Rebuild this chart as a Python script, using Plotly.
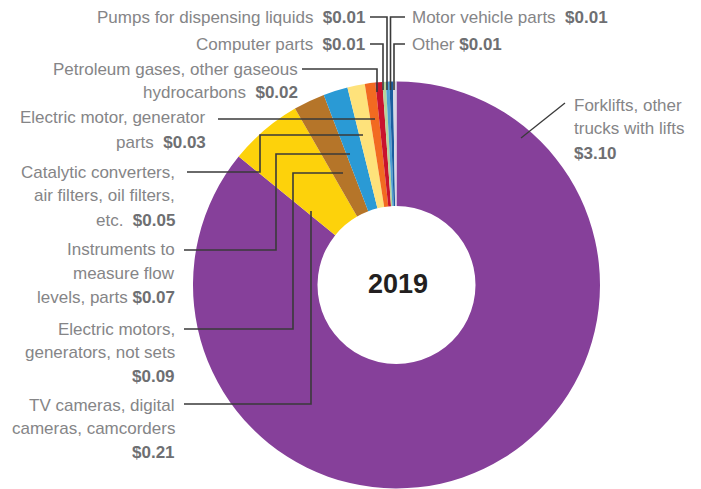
import plotly.graph_objects as go

W, H = 701, 489
# page offset (default body margin of the html page)
OX, OY = 8, 8

# ---- data ----
categories = [
    "Forklifts, other trucks with lifts",
    "TV cameras, digital cameras, camcorders",
    "Electric motors, generators, not sets",
    "Instruments to measure flow levels, parts",
    "Catalytic converters, air filters, oil filters, etc.",
    "Electric motor, generator parts",
    "Petroleum gases, other gaseous hydrocarbons",
    "Computer parts",
    "Pumps for dispensing liquids",
    "Motor vehicle parts",
    "Other",
]
values = [3.10, 0.21, 0.09, 0.07, 0.05, 0.03, 0.02, 0.01, 0.01, 0.01, 0.01]
year_label = "2019"

# label text broken into lines; the value is appended to the last line
label_lines = [
    ["Forklifts, other", "trucks with lifts", ""],
    ["TV cameras, digital", "cameras, camcorders", ""],
    ["Electric motors,", "generators, not sets", ""],
    ["Instruments to", "measure flow", "levels, parts "],
    ["Catalytic converters,", "air filters, oil filters,", "etc.  "],
    ["Electric motor, generator", "parts  "],
    ["Petroleum gases, other gaseous", "hydrocarbons  "],
    ["Computer parts  "],
    ["Pumps for dispensing liquids  "],
    ["Motor vehicle parts  "],
    ["Other "],
]

# ---- style / layout ----
colors = ["#86409A", "#FDD20B", "#B57529", "#2A9AD5", "#FEE27B", "#F26A21",
          "#C9132E", "#B5D49B", "#4E9FD3", "#1B5C9F", "#D8D5E5"]

# (anchor x px, side, first-line y px, line spacing px)
label_pos = [
    (572, "left", 105, 24),
    (177, "right", 405, 23.5),
    (177, "right", 329, 23.5),
    (177, "right", 250, 23.5),
    (177, "right", 172, 24),
    (208, "right", 118, 24),
    (300, "right", 70, 23),
    (367, "right", 45, 24),
    (367, "right", 17, 24),
    (410, "left", 17, 24),
    (410, "left", 45, 24),
]
# leader polylines, pixel coords
leaders = [
    [(565, 103), (521, 138)],
    [(184, 404), (311, 404), (311, 211)],
    [(184, 329), (293, 329), (293, 173), (343, 173)],
    [(184, 250), (276, 250), (276, 154), (350, 154)],
    [(187, 172), (260, 172), (260, 135), (363, 135)],
    [(218, 119), (375, 119)],
    [(302, 69), (377, 69), (377, 92)],
    [(370, 44), (383, 44), (383, 90)],
    [(370, 17), (387, 17), (387, 90)],
    [(405, 17), (390.5, 17), (390.5, 90)],
    [(405, 44), (394, 44), (394, 90)],
]

cx, cy, r = 396.5, 285, 203.5
hole_r = 79

def px(x):
    return (x - OX) / W

def py(y):
    return 1 - (y - OY) / H

fig = go.Figure()
fig.add_trace(go.Pie(
    labels=categories,
    values=values,
    sort=False,
    direction="clockwise",
    rotation=0,
    hole=hole_r / r,
    marker=dict(colors=colors, line=dict(width=0)),
    textinfo="none",
    hoverinfo="label+value",
    showlegend=False,
    domain=dict(x=[px(cx - r), px(cx + r)], y=[py(cy + r), py(cy - r)]),
))

shapes = []
for i, pts in enumerate(leaders):
    path = "M " + " L ".join(f"{px(x):.5f},{py(y):.5f}" for x, y in pts)
    shapes.append(dict(type="path", path=path, xref="paper", yref="paper",
                       line=dict(color="#3A3A3A", width=1.3 if i == 0 else 1.6),
                       layer="above"))

LABEL_COLOR = "#858587"
VALUE_COLOR = "#6E6F72"
annotations = []
for lines, val, (ax, side, y0, sp) in zip(label_lines, values, label_pos):
    for j, line in enumerate(lines):
        txt = line
        if j == len(lines) - 1:
            txt = line + f"<span style='color:{VALUE_COLOR}'><b>${val:.2f}</b></span>"
        annotations.append(dict(
            x=px(ax), y=py(y0 + j * sp), xref="paper", yref="paper",
            text=txt, showarrow=False, xanchor=side, yanchor="middle",
            align=side,
            font=dict(family="Arial, Liberation Sans, sans-serif", size=17,
                      color=LABEL_COLOR),
        ))

annotations.append(dict(
    x=px(cx + 1), y=py(cy - 1), xref="paper", yref="paper", text=f"<b>{year_label}</b>",
    showarrow=False, xanchor="center", yanchor="middle",
    font=dict(family="Arial, Liberation Sans, sans-serif", size=27, color="#231F20"),
))

fig.update_layout(
    width=W, height=H,
    margin=dict(l=0, r=0, t=0, b=0),
    paper_bgcolor="white", plot_bgcolor="white",
    shapes=shapes, annotations=annotations,
)

fig.write_html("out.html")
